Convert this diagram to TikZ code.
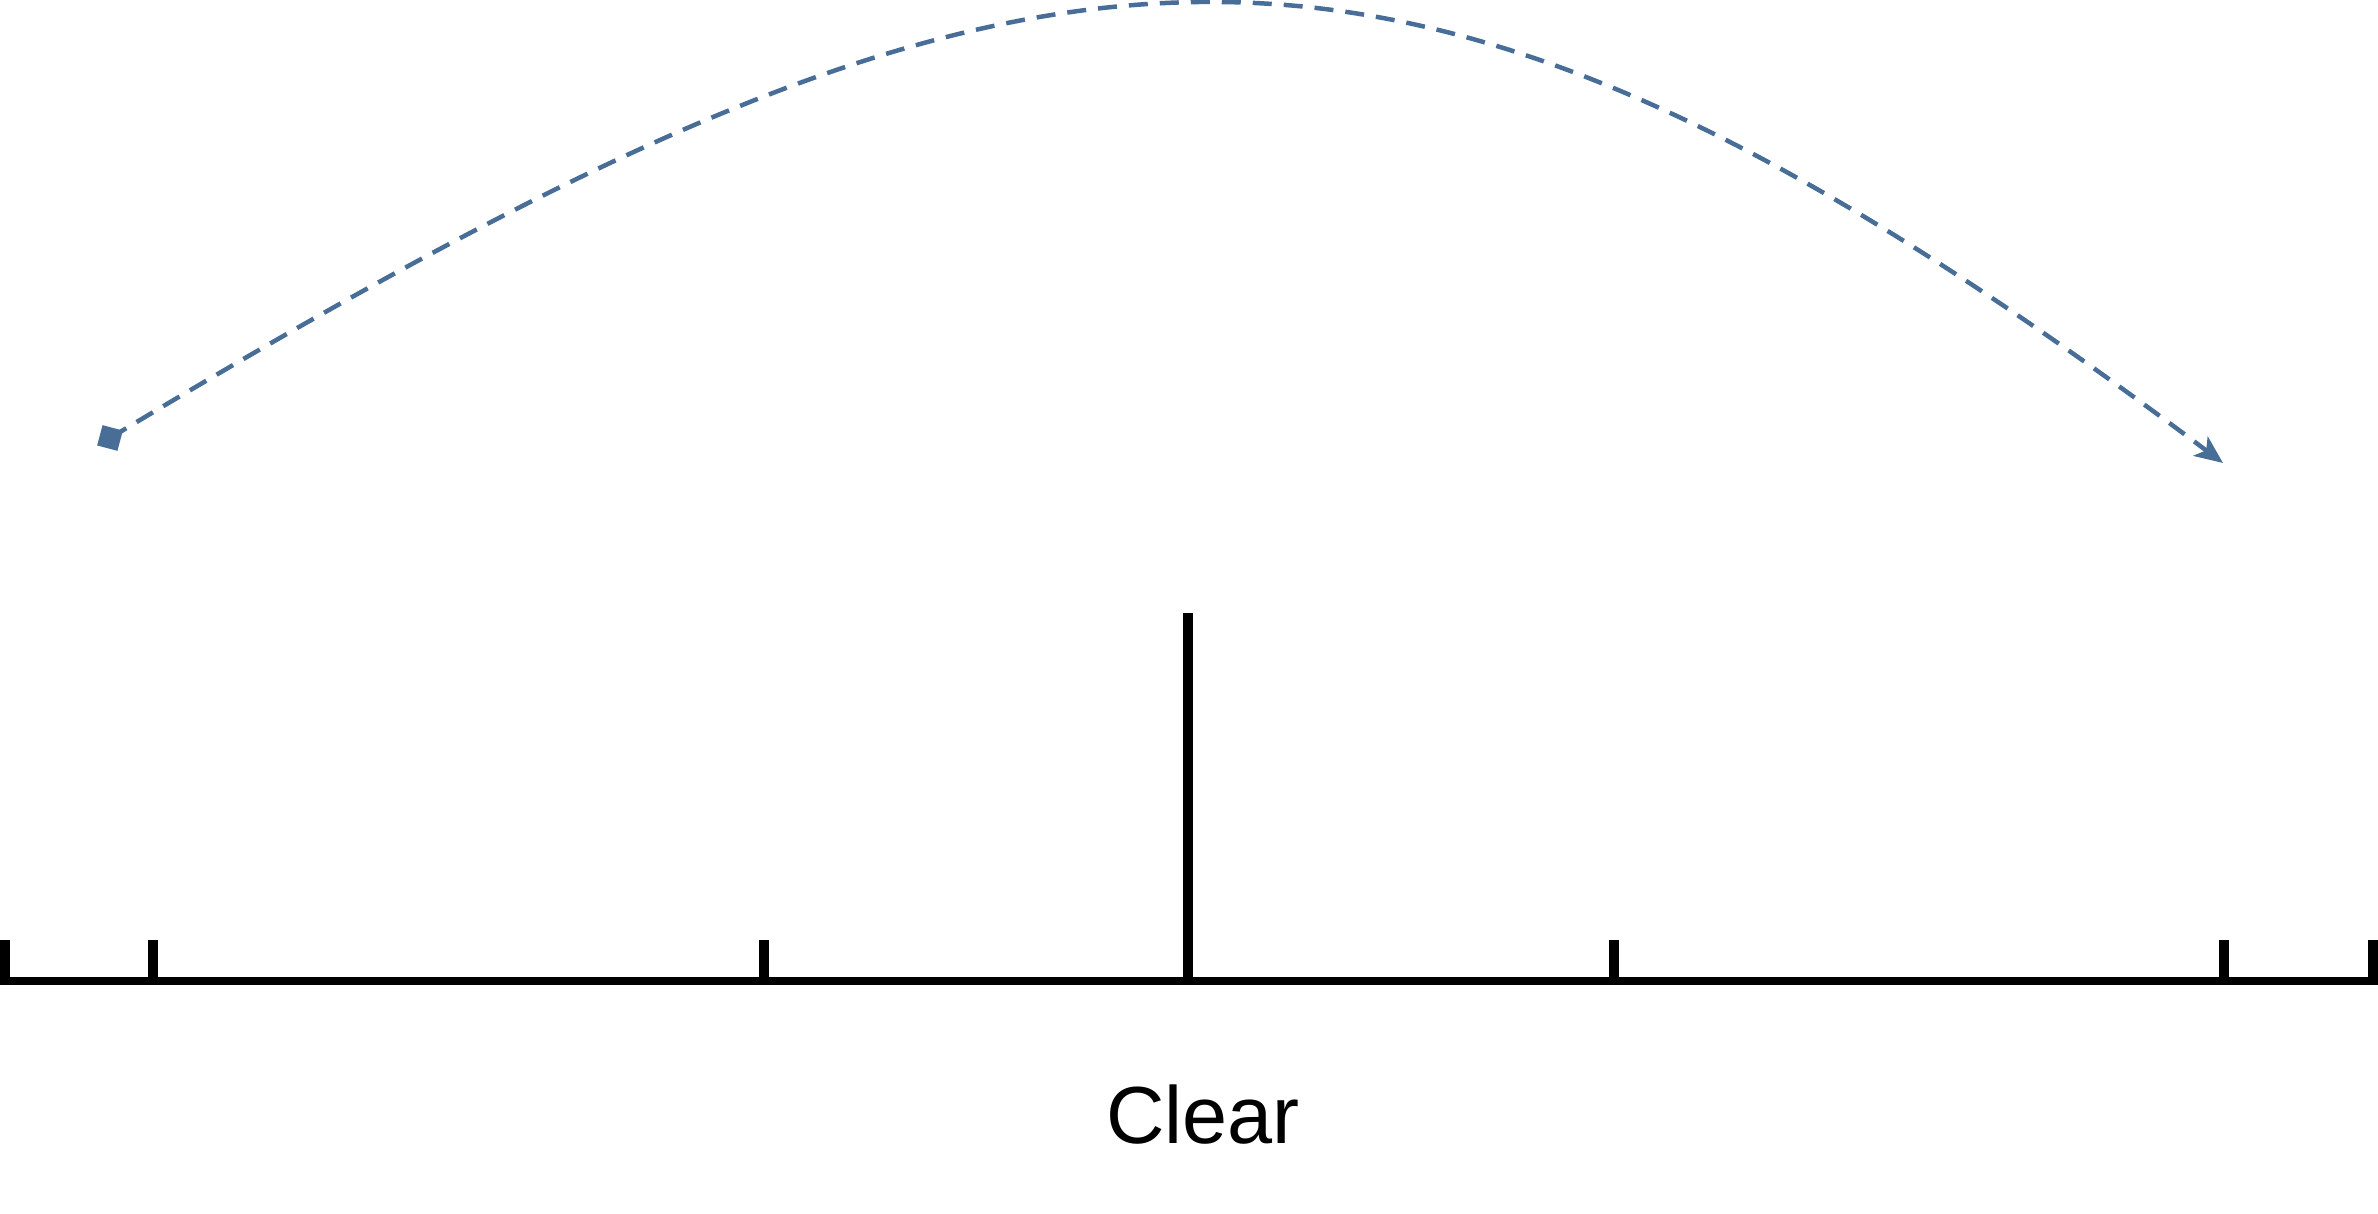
\documentclass[tikz,border=0pt]{standalone}
\usepackage{fontspec}
\setmainfont{Liberation Sans}
\usetikzlibrary{arrows.meta}
\definecolor{curveblue}{RGB}{72,110,152}
\begin{document}
\begin{tikzpicture}[x=1pt,y=-1pt,
  axisline/.style={line width=8pt,black},
  tickline/.style={line width=10pt,black},
  jumpcurve/.style={curveblue,line width=4.5pt,dash pattern=on 19pt off 12pt,
     -{Stealth[length=28pt,width=24pt,inset=7pt]}},
  startmark/.style={fill=curveblue,draw=none,minimum size=21pt,inner sep=0pt,rotate=-15},
  lbl/.style={font=\fontsize{81pt}{90pt}\selectfont,inner sep=0pt}]
\useasboundingbox (0,0) rectangle (2378,1214);
% axis
\coordinate (axL) at (0,980.5);
\coordinate (axR) at (2378,980.5);
\draw[axisline] (axL) -- (axR);
% ticks
\foreach \n/\x in {t0/5,t1/153,t2/764,t4/1614,t5/2224,t6/2373}{
  \coordinate (\n top) at (\x,940);
  \coordinate (\n bot) at (\x,980);
  \draw[tickline] (\n top) -- (\n bot);
}
% center line
\coordinate (ctop) at (1188,613);
\coordinate (cbot) at (1188,980);
\draw[tickline] (ctop) -- (cbot);
% curve
\node[startmark] (s) at (110,438) {};
\coordinate (e) at (2223,463);
\draw[jumpcurve] (s.center) .. controls (1040,-121) and (1378,-170) .. (e);
% label
\node[lbl] (clear) at (1203,1115) {Clear};
\end{tikzpicture}
\end{document}
